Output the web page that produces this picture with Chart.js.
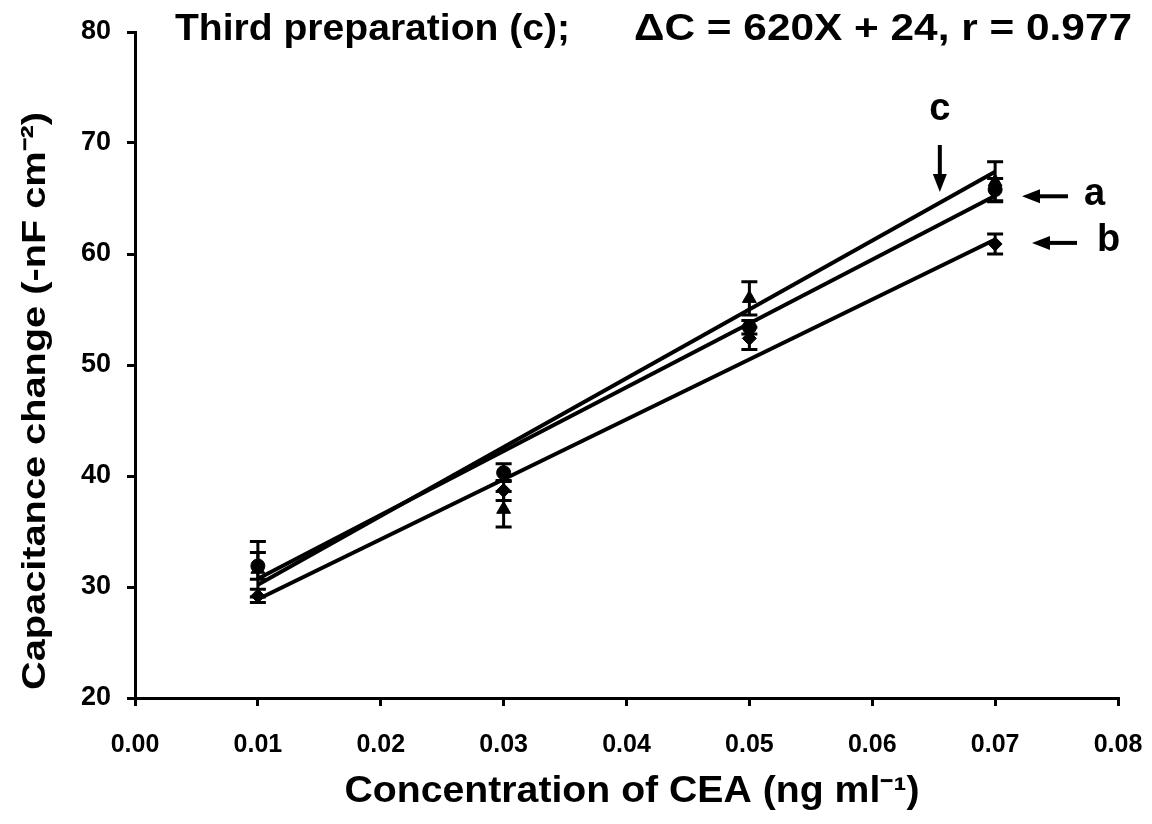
<!DOCTYPE html>
<html>
<head>
<meta charset="utf-8">
<title>Capacitance change vs CEA concentration</title>
<script src="https://cdn.jsdelivr.net/npm/chart.js@4/dist/chart.umd.min.js"></script>
<style>
  html, body { margin: 0; padding: 0; background: #fff; }
  canvas { display: block; }
</style>
</head>
<body>
<canvas id="chart" width="1152" height="824"></canvas>
<script>
// CEA concentrations (ng/ml) at which capacitance was measured
const concentrations = [0.01, 0.03, 0.05, 0.07];

// Mean capacitance change (-nF cm^-2) and standard deviations per preparation
const prepA = [31.9, 40.3, 53.4, 65.8];
const prepAErr = [1.2, 0.8, 0.6, 1.0];
const prepB = [29.2, 38.7, 52.4, 60.9];
const prepBErr = [0.6, 0.9, 1.0, 0.9];
const prepC = [31.6, 37.0, 56.0, 66.5];
const prepCErr = [2.5, 1.6, 1.5, 1.8];

// Linear fits ΔC = slope·X + intercept for preparations a, b, c
const fitSlopes = [575, 540, 620];
const fitIntercepts = [25.0, 23.5, 24];
const fitRange = [0.01, 0.07];

// Axis ticks
const xTicks = [0.00, 0.01, 0.02, 0.03, 0.04, 0.05, 0.06, 0.07, 0.08];
const yTicks = [20, 30, 40, 50, 60, 70, 80];

const FONT = '"Liberation Sans", Arial, sans-serif';

function pts(ys) { return concentrations.map((x, i) => ({ x, y: ys[i] })); }
function fitLine(k) {
  return fitRange.map(x => ({ x, y: fitSlopes[k] * x + fitIntercepts[k] }));
}

const lineDs = k => ({
  type: 'line', data: fitLine(k), borderColor: '#000', borderWidth: 4,
  pointRadius: 0, showLine: true, fill: false, order: 2
});
const pointDs = (ys, style, r, err) => ({
  type: 'scatter', data: pts(ys), pointStyle: style, pointRadius: r,
  backgroundColor: '#000', borderColor: '#000', borderWidth: 1,
  errors: err, order: 1
});

// Vertical error bars with caps, positioned via the chart scales
const errorBars = {
  id: 'errorBars',
  beforeDatasetsDraw(chart) {
    const { ctx, scales: { x, y } } = chart;
    ctx.save();
    ctx.strokeStyle = '#000';
    ctx.lineWidth = 3;
    chart.data.datasets.forEach(ds => {
      if (!ds.errors) return;
      ds.data.forEach((p, i) => {
        const px = x.getPixelForValue(p.x);
        const yt = y.getPixelForValue(p.y + ds.errors[i]);
        const yb = y.getPixelForValue(p.y - ds.errors[i]);
        ctx.beginPath();
        ctx.moveTo(px, yt); ctx.lineTo(px, yb);
        ctx.moveTo(px - 8, yt); ctx.lineTo(px + 8, yt);
        ctx.moveTo(px - 8, yb); ctx.lineTo(px + 8, yb);
        ctx.stroke();
      });
    });
    ctx.restore();
  }
};

function arrow(ctx, x1, y1, x2, y2) {
  // shaft from (x1,y1) to head tip at (x2,y2)
  const ang = Math.atan2(y2 - y1, x2 - x1);
  const hl = 18, hw = 7;
  const bx = x2 - hl * Math.cos(ang), by = y2 - hl * Math.sin(ang);
  ctx.beginPath();
  ctx.lineWidth = 4;
  ctx.moveTo(x1, y1); ctx.lineTo(bx, by); ctx.stroke();
  ctx.beginPath();
  ctx.moveTo(x2, y2);
  ctx.lineTo(bx + hw * Math.sin(ang), by - hw * Math.cos(ang));
  ctx.lineTo(bx - hw * Math.sin(ang), by + hw * Math.cos(ang));
  ctx.closePath(); ctx.fill();
}

// Draw text in a narrow bold face: squeeze horizontally to a given width
function narrowText(ctx, text, x, y, size, width, align) {
  ctx.font = 'bold ' + size + 'px ' + FONT;
  const w = ctx.measureText(text).width;
  const sx = width / w;
  ctx.save();
  ctx.translate(x, y);
  ctx.scale(sx, 1);
  ctx.textAlign = align;
  ctx.fillText(text, 0, 0);
  ctx.restore();
}

// Titles, axis names and the a/b/c labels
const annotations = {
  id: 'annotations',
  afterDraw(chart) {
    const { ctx, scales: { x, y } } = chart;
    ctx.save();
    ctx.fillStyle = '#000';
    ctx.strokeStyle = '#000';
    ctx.textBaseline = 'middle';

    narrowText(ctx, 'Third preparation (c);', 175, 30, 36, 395, 'left');
    narrowText(ctx, '\u0394C = 620X + 24, r = 0.977', 634, 30, 36, 498, 'left');

    narrowText(ctx, 'Concentration of CEA (ng ml\u207B\u00B9)', 632, 792, 36, 575, 'center');

    ctx.save();
    ctx.translate(36, 401);
    ctx.rotate(-Math.PI / 2);
    narrowText(ctx, 'Capacitance change (-nF cm\u207B\u00B2)', 0, 0, 34, 578, 'center');
    ctx.restore();

    // preparation labels
    ctx.font = 'bold 38px ' + FONT;
    ctx.textAlign = 'center';
    const cx = x.getPixelForValue(0.0655);
    ctx.fillText('c', cx, 110);
    arrow(ctx, cx, 145, cx, 192);

    const ya = y.getPixelForValue(65.2);
    arrow(ctx, 1068, ya, 1022, ya);
    ctx.textAlign = 'left';
    ctx.fillText('a', 1084, ya - 2);

    const yb = y.getPixelForValue(61.0);
    arrow(ctx, 1077, yb, 1032, yb);
    ctx.fillText('b', 1097, yb - 2);
    ctx.restore();
  }
};

new Chart(document.getElementById('chart'), {
  type: 'scatter',
  data: {
    datasets: [
      lineDs(0), lineDs(1), lineDs(2),
      pointDs(prepA, 'circle', 7, prepAErr),
      pointDs(prepB, 'rectRot', 7, prepBErr),
      pointDs(prepC, 'triangle', 8, prepCErr)
    ]
  },
  options: {
    responsive: false,
    animation: false,
    layout: { padding: { top: 32, right: 34, left: 0, bottom: 0 } },
    plugins: { legend: { display: false }, tooltip: { enabled: false } },
    scales: {
      x: {
        type: 'linear', min: 0, max: 0.08,
        afterBuildTicks: s => { s.ticks = xTicks.map(v => ({ value: v })); },
        afterFit: s => { s.height = 126; s.paddingLeft = 0; s.paddingRight = 0; },
        ticks: {
          color: '#000', padding: 24,
          font: { family: FONT, size: 25, weight: 'bold' },
          callback: v => Number(v).toFixed(2)
        },
        grid: { drawOnChartArea: false, drawTicks: true, tickLength: 8, color: '#000', lineWidth: 3 },
        border: { display: true, color: '#000', width: 3 }
      },
      y: {
        type: 'linear', min: 20, max: 80,
        afterBuildTicks: s => { s.ticks = yTicks.map(v => ({ value: v })); },
        afterFit: s => { s.width = 135; s.paddingTop = 0; s.paddingBottom = 0; },
        ticks: {
          color: '#000', padding: 16,
          font: { family: FONT, size: 27, weight: 'bold' }
        },
        grid: { drawOnChartArea: false, drawTicks: true, tickLength: 8, color: '#000', lineWidth: 3 },
        border: { display: true, color: '#000', width: 3 }
      }
    }
  },
  plugins: [errorBars, annotations]
});
</script>
</body>
</html>
